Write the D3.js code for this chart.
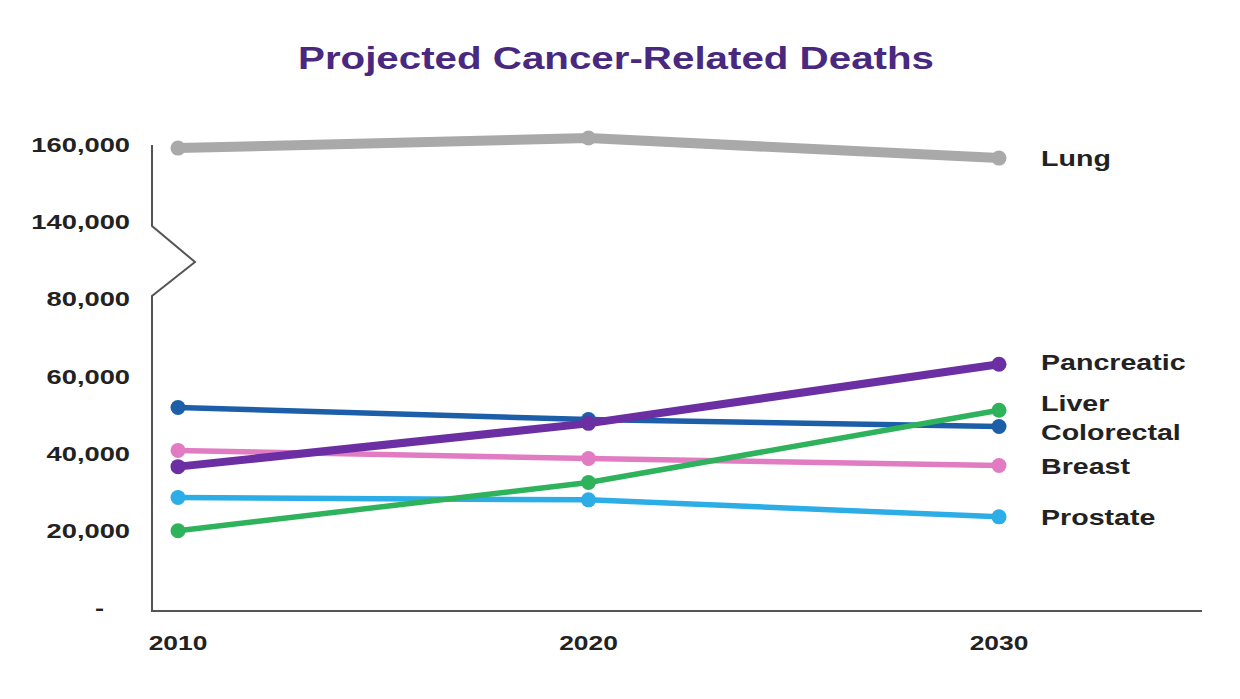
<!DOCTYPE html>
<html lang="en">
<head>
	<meta charset="UTF-8">
	<title>Projected Cancer-Related Deaths</title>
	<script src="https://cdn.jsdelivr.net/npm/d3@7"></script>
	<style>
		body { margin: 0; background: #fff; }
		text { font-family: "Liberation Sans", Arial, sans-serif; font-weight: bold; }
	</style>
</head>
<body>
	<svg id="grafico" width="1240" height="699"></svg>
	<script>
	// data
	var years = [2010, 2020, 2030];
	var tickValues = [0, 20000, 40000, 60000, 80000, 140000, 160000];
	var lung = [159200, 161800, 156600];
	var pancreatic = [36600, 47800, 63100];
	var colorectal = [51900, 48800, 47000];
	var liver = [20000, 32500, 51200];
	var breast = [40800, 38700, 36900];
	var prostate = [28600, 28000, 23600];

	var series = [
		{ name: "Colorectal", values: colorectal, color: "#1c5ea8", width: 5.5, labelY: 432 },
		{ name: "Breast", values: breast, color: "#e17cc3", width: 5.5, labelY: 466 },
		{ name: "Prostate", values: prostate, color: "#2cade6", width: 5.5, labelY: 517 },
		{ name: "Liver", values: liver, color: "#2eb25c", width: 5.5, labelY: 403 },
		{ name: "Pancreatic", values: pancreatic, color: "#6b2fa3", width: 8, labelY: 362 },
		{ name: "Lung", values: lung, color: "#a9a9a9", width: 10, labelY: 158 }
	];

	var svg = d3.select("#grafico");

	var x = d3.scaleLinear().domain([2010, 2030]).range([178, 999]);
	// broken axis: 80,000 -> 140,000 squeezed into one step
	var y = d3.scaleLinear().domain([0, 80000, 140000, 160000]).range([608, 299, 222, 145]);

	// the original lettering is wide, so stretch it sideways
	function label(px, py, str, size, anchor, color, sx, dy){
		return svg.append("text")
			.attr("transform", "translate(" + px + "," + py + ") scale(" + sx + ",1)")
			.attr("dy", dy || 0)
			.attr("text-anchor", anchor)
			.attr("font-size", size)
			.attr("fill", color)
			.text(str);
	}

	label(616, 69, "Projected Cancer-Related Deaths", 32, "middle", "#48297f", 1.26);

	// axis lines with the zigzag break
	svg.append("path")
		.attr("d", "M152,145 L152,226 L195,262 L152,296 L152,611 L1202,611")
		.attr("fill", "none")
		.attr("stroke", "#555")
		.attr("stroke-width", 2);

	tickValues.forEach(function(d){
		label(d === 0 ? 104 : 130, y(d), d === 0 ? "-" : d3.format(",")(d), 21, "end", "#222", 1.3, ".35em");
	});

	years.forEach(function(d){
		label(x(d), 650, d, 20, "middle", "#222", 1.32);
	});

	var line = d3.line()
		.x(function(d, i){ return x(years[i]); })
		.y(function(d){ return y(d); });

	series.forEach(function(s){
		var g = svg.append("g");
		g.append("path")
			.attr("d", line(s.values))
			.attr("fill", "none")
			.attr("stroke", s.color)
			.attr("stroke-width", s.width)
			.attr("stroke-linecap", "round");
		g.selectAll("circle").data(s.values).enter()
			.append("circle")
			.attr("cx", function(d, i){ return x(years[i]); })
			.attr("cy", function(d){ return y(d); })
			.attr("r", 7.5)
			.attr("fill", s.color);
		label(1041, s.labelY, s.name, 22, "start", "#222", 1.3, ".35em");
	});
	</script>
</body>
</html>
